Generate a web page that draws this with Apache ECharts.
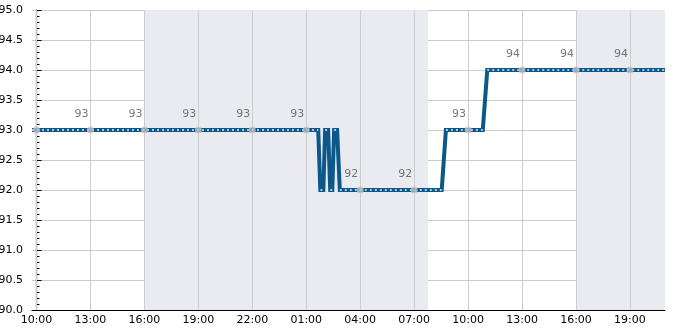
<!DOCTYPE html>
<html><head><meta charset="utf-8">
<script src="https://cdn.jsdelivr.net/npm/echarts@6/dist/echarts.min.js"></script>
<style>html,body{margin:0;padding:0;background:#fff}#c{width:685px;height:330px}</style>
</head><body><div id="c"></div>
<script>
// Step series: "day HH:MM" (day 0 = first day) and values
const stepTimes = ['0 09:45','1 01:40','1 01:47','1 01:57','1 02:03','1 02:13','1 02:20','1 02:27','1 02:33','1 02:43','1 02:52','1 08:32','1 08:46','1 10:49','1 11:04','1 20:57'];
const stepValues = [93,93,92,92,93,93,92,92,93,93,92,92,93,93,94,94];
// Sampled points every 3 hours
const pointTimes = ['0 10:00','0 13:00','0 16:00','0 19:00','0 22:00','1 01:00','1 04:00','1 07:00','1 10:00','1 13:00','1 16:00','1 19:00'];
const pointValues = [93,93,93,93,93,93,92,92,93,94,94,94];
// Shaded (night) spans
const shadeStarts = ['0 16:00','1 16:00'];
const shadeEnds = ['1 07:47','1 20:57'];
const xTickLabels = ['10:00','13:00','16:00','19:00','22:00','01:00','04:00','07:00','10:00','13:00','16:00','19:00'];
const xStart = '0 09:45', xEnd = '1 20:57';
const yMin = 90, yMax = 95, yStep = 0.5;

function hrs(s){const [d,t]=s.split(' ');const [h,m]=t.split(':').map(Number);return (+d)*24+h+m/60-10;}
const tickPos = pointTimes.map(hrs);
const stepData = stepTimes.map((t,i)=>[hrs(t),stepValues[i]]);
const flatData = [];
for(let i=0;i<stepData.length-1;i++){
  if(stepData[i][1]===stepData[i+1][1]){flatData.push(stepData[i],stepData[i+1],[null,null]);}
}
const ptData = pointTimes.map((t,i)=>({value:[hrs(t),pointValues[i]],label:{show:i>0}}));
const font = 'DejaVu Sans';
const chart = echarts.init(document.getElementById('c'));
chart.setOption({
  animation:false,
  grid:{left:32,right:20,top:10,bottom:20,containLabel:false,outerBoundsMode:'none'},
  xAxis:{type:'value',min:hrs(xStart),max:hrs(xEnd),
    axisLine:{lineStyle:{color:'#000',width:1.2}},
    axisTick:{inside:true,length:5,customValues:tickPos,lineStyle:{color:'#000'}},
    axisLabel:{customValues:tickPos,formatter:(v)=>{const i=tickPos.findIndex(p=>Math.abs(p-v)<1e-6);return i>=0?xTickLabels[i]:'';},color:'#000',fontFamily:font,fontSize:11,margin:5},
    splitLine:{show:false}},
  yAxis:{type:'value',min:yMin,max:yMax,interval:yStep,
    axisLine:{show:true,lineStyle:{color:'#000',width:1.2}},
    axisTick:{inside:true,length:5,lineStyle:{color:'#000'}},
    minorTick:{show:true,splitNumber:5,length:3,lineStyle:{color:'#000'}},
    axisLabel:{formatter:(v)=>v.toFixed(1),color:'#000',fontFamily:font,fontSize:11,margin:9},
    splitLine:{show:true,lineStyle:{color:'#cccccc',width:1}}},
  series:[
    {type:'line',data:stepData,showSymbol:false,lineStyle:{color:'#0c5889',width:4,join:'miter'},z:3,
     markArea:{silent:true,itemStyle:{color:'#eaebf1'},data:shadeStarts.map((s,i)=>[{xAxis:hrs(s)},{xAxis:hrs(shadeEnds[i])}])},
     markLine:{silent:true,symbol:'none',label:{show:false},lineStyle:{color:'#cccccc',width:1,type:'solid'},data:tickPos.map(p=>({xAxis:p})),z:1}},
    {type:'line',data:flatData,showSymbol:false,connectNulls:false,lineStyle:{color:'#e3ebf1',width:1.3,type:[2,3]},z:4},
    {type:'scatter',data:ptData,symbol:'circle',symbolSize:7,itemStyle:{color:'#c0c0c0'},z:5,
     label:{position:'top',offset:[-9,-2],color:'#555',fontFamily:font,fontSize:11}}
  ]
});
</script></body></html>
